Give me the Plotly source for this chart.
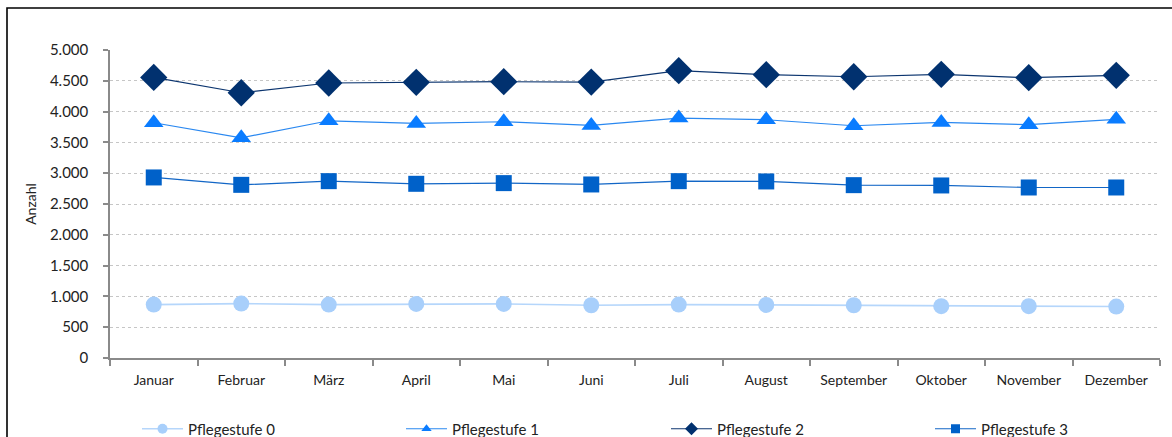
import plotly.graph_objects as go

months = ["Januar", "Februar", "März", "April", "Mai", "Juni", "Juli",
          "August", "September", "Oktober", "November", "Dezember"]

stufe0 = [867, 883, 867, 878, 878, 856, 867, 862, 856, 841, 841, 835]
stufe1 = [3819, 3575, 3851, 3808, 3835, 3776, 3895, 3868, 3770, 3825, 3787, 3874]
stufe2 = [4555, 4306, 4464, 4475, 4485, 4480, 4664, 4599, 4566, 4605, 4550, 4589]
stufe3 = [2931, 2811, 2871, 2828, 2839, 2817, 2871, 2866, 2806, 2801, 2768, 2768]

names = ["Pflegestufe 0", "Pflegestufe 1", "Pflegestufe 2", "Pflegestufe 3"]

FONT = "Lato, 'Open Sans', sans-serif"

W, H = 1172, 437
L, T = 110, 50
R = W - 1160
B = H - 358
pw = W - L - R
ph = H - T - B

def px_x(p):
    return (p - L) / pw

def px_y(p):
    return (H - B - p) / ph

legend_ids = ["legend", "legend2", "legend3", "legend4"]
legend_centers = [155, 419, 684, 948]

fig = go.Figure()
series = [
    (stufe0, names[0], "circle", 16, 10, "#a8cffb", "#b5d6fb", 1.6),
    (stufe1, names[1], "triangle-up", 17, 9, "#0a7cff", "#2a88f0", 1.2),
    (stufe2, names[2], "diamond", 21, 10, "#01316f", "#0c356f", 1.2),
    (stufe3, names[3], "square", 16, 9, "#0061c9", "#1266c6", 1.2),
]
for i, (vals, name, sym, size, lsize, mcol, lcol, lw) in enumerate(series):
    fig.add_trace(go.Scatter(
        x=months, y=vals, name=name, mode="lines+markers",
        line=dict(color=lcol, width=lw), showlegend=False,
        marker=dict(symbol=sym, size=size, color=mcol, line=dict(width=0)),
    ))
    # legend entry with smaller symbol (no data drawn)
    fig.add_trace(go.Scatter(
        x=[None], y=[None], name=name, mode="lines+markers",
        line=dict(color=lcol, width=lw), showlegend=True,
        legend=legend_ids[i],
        marker=dict(symbol=sym, size=lsize, color=mcol, line=dict(width=0)),
    ))

fig.add_shape(type="rect", xref="paper", yref="paper",
              x0=px_x(7), x1=px_x(1185), y0=px_y(450), y1=px_y(8),
              line=dict(color="#000000", width=1.6), fillcolor="rgba(0,0,0,0)",
              layer="below")

legend_common = dict(
    orientation="h", xref="container", yref="container",
    xanchor="left", y=1 - 429 / H, yanchor="middle",
    itemwidth=41,
    font=dict(family=FONT, size=15, color="#222222"),
    bgcolor="rgba(0,0,0,0)", itemclick=False, itemdoubleclick=False,
)
legends = {}
for lid, cx in zip(legend_ids, legend_centers):
    legends[lid] = dict(legend_common, x=(cx - 18) / W)

fig.update_layout(
    width=W, height=H,
    margin=dict(l=L, r=R, t=T, b=B, autoexpand=False),
    paper_bgcolor="white", plot_bgcolor="white",
    separators=",.",
    font=dict(family=FONT, size=15, color="#222222"),
    showlegend=True,
    **legends,
    xaxis=dict(
        type="category", showgrid=False,
        showline=True, linecolor="#8a8a8a", linewidth=1.5,
        ticks="outside", tickson="boundaries", ticklen=6, tickcolor="#8a8a8a",
        tickwidth=1.5, tickfont=dict(size=14), range=[-0.5, 11.5],
        ticklabelstandoff=8,
    ),
    yaxis=dict(
        range=[0, 5000], dtick=500, tickformat=",d",
        showgrid=True, gridcolor="#c6c6c6", griddash="dot", gridwidth=1,
        showline=True, linecolor="#8a8a8a", linewidth=1.5,
        ticks="outside", ticklen=5, tickcolor="#8a8a8a", tickwidth=1.5,
        tickfont=dict(size=15), zeroline=False, ticklabelstandoff=12,
        title=dict(text="Anzahl", font=dict(size=14), standoff=10),
    ),
)

fig.write_html("out.html", config={"displayModeBar": False},
               post_script="document.body.style.margin='0';")
